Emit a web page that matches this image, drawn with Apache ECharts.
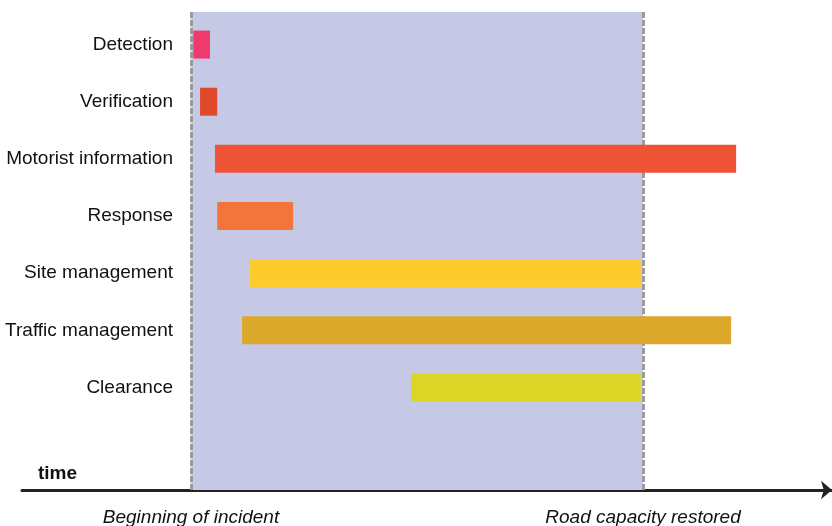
<!DOCTYPE html>
<html>
<head>
<meta charset="utf-8">
<script src="https://cdn.jsdelivr.net/npm/echarts@6/dist/echarts.min.js"></script>
<style>
html,body{margin:0;padding:0;background:#fff;}
#chart{width:832px;height:526px;}
</style>
</head>
<body>
<div id="chart"></div>
<script>
// ---- data ----
const categories = ['Detection', 'Verification', 'Motorist information', 'Response', 'Site management', 'Traffic management', 'Clearance'];
const starts = [0.5, 2.0, 5.3, 5.8, 13.0, 11.3, 48.7];
const ends = [4.2, 5.8, 120.6, 22.6, 99.5, 119.5, 99.5];
const milestoneValues = [0, 100];
const milestoneLabels = ['Beginning of incident', 'Road capacity restored'];
const axisTitle = 'time';

// ---- styles ----
const palette = ['#ee3a6c', '#e04a2a', '#ef5336', '#f4743d', '#fdcb2b', '#dba82b', '#ddd526'];
const FONT = '"Liberation Sans", Arial, sans-serif';

const durations = starts.map((s, i) => ends[i] - s);
const xMin = -37.39, xMax = 141.81;

const chart = echarts.init(document.getElementById('chart'), null, {renderer: 'canvas'});
chart.setOption({
  animation: false,
  backgroundColor: '#ffffff',
  grid: [
    {left: 22, top: 12, width: 810, height: 478, outerBoundsMode: 'none', containLabel: false},
    {left: 191, top: 16, width: 641, height: 400, outerBoundsMode: 'none', containLabel: false}
  ],
  xAxis: [
    {
      type: 'value', gridIndex: 0, min: xMin, max: xMax,
      splitLine: {show: false},
      axisTick: {show: false},
      axisLine: {show: true, symbol: ['none', 'arrow'], symbolSize: [14, 11],
        lineStyle: {color: '#222', width: 3}},
      axisLabel: {
        show: true,
        customValues: milestoneValues,
        formatter: v => milestoneLabels[milestoneValues.indexOf(v)] || '',
        fontFamily: FONT, fontSize: 19, fontStyle: 'italic', color: '#111',
        margin: 18
      }
    },
    {
      type: 'value', gridIndex: 1, min: 0, max: xMax,
      show: false
    }
  ],
  yAxis: [
    {type: 'value', gridIndex: 0, min: 0, max: 1, show: false},
    {
      type: 'category', gridIndex: 1, data: categories, inverse: true,
      axisLine: {show: false}, axisTick: {show: false}, splitLine: {show: false},
      axisLabel: {fontFamily: FONT, fontSize: 19, color: '#111', margin: 18}
    }
  ],
  graphic: [
    {type: 'text', left: 38, top: 464, style: {text: axisTitle, font: 'bold 19px ' + FONT, fill: '#111'}}
  ],
  series: [
    {
      type: 'line', xAxisIndex: 0, yAxisIndex: 0, data: [], symbol: 'none', silent: true,
      markArea: {
        silent: true,
        itemStyle: {color: '#c6c9e6'},
        data: [[{xAxis: milestoneValues[0]}, {xAxis: milestoneValues[1]}]]
      },
      markLine: {
        silent: true, symbol: ['none', 'none'], label: {show: false},
        lineStyle: {color: '#9b9b9b', width: 3, type: [6, 2]},
        data: milestoneValues.map(v => ({xAxis: v}))
      }
    },
    {
      type: 'bar', xAxisIndex: 1, yAxisIndex: 1, stack: 'g', barWidth: 28, z: 5,
      itemStyle: {color: 'rgba(0,0,0,0)'}, silent: true,
      data: starts
    },
    {
      type: 'bar', xAxisIndex: 1, yAxisIndex: 1, stack: 'g', barWidth: 28, z: 5,
      data: durations.map((d, i) => ({value: d, itemStyle: {color: palette[i]}}))
    }
  ]
});
</script>
</body>
</html>
